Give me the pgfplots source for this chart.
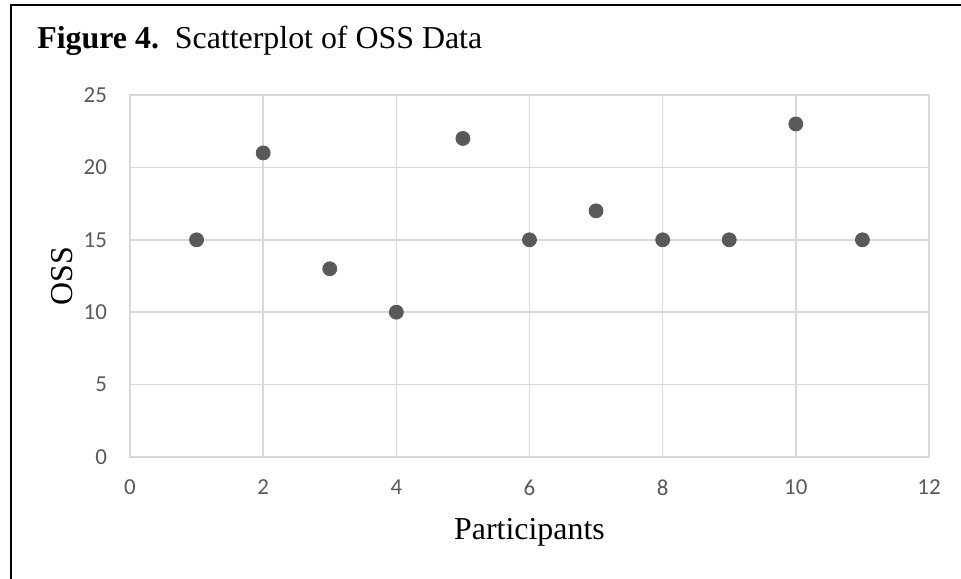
\documentclass[border=0pt]{standalone}
\usepackage{fontspec}
\setmainfont{Liberation Serif}
\newfontfamily\calibri{Carlito}
\usepackage{pgfplots}
\pgfplotsset{compat=1.18}
\definecolor{gridgray}{HTML}{D9D9D9}
\definecolor{tickgray}{HTML}{595959}
\definecolor{markgray}{HTML}{595959}

\begin{document}
\begin{tikzpicture}
% page = 961x579 px at 0.5 bp per px, origin at axis lower left
\useasboundingbox (-65bp,-61bp) rectangle (415.5bp,228.5bp);
\draw[line width=1.1bp] (-59.5bp,-70bp) -- (-59.5bp,226bp) -- (430bp,226bp);
\node[anchor=base west, font=\fontsize{16}{19}\selectfont, inner sep=0pt]
  at (-46.5bp,204bp) {\textbf{Figure 4.}\ \ Scatterplot of OSS Data};
\begin{axis}[
    at={(0,0)}, anchor=origin,
    scale only axis,
    width=399.5bp, height=181bp,
    xmin=0, xmax=12, ymin=0, ymax=25,
    xtick={0,2,...,12}, ytick={0,5,...,25},
    grid=major,
    grid style={gridgray, line width=0.75bp},
    axis line style={gridgray, line width=0.75bp},
    major tick length=0pt,
    /pgf/number format/assume math mode=true,
    tick label style={font=\calibri\fontsize{11.5}{13}\selectfont, text=tickgray},
    xticklabel style={yshift=-8bp},
    yticklabel style={xshift=-8bp},
    xlabel={Participants},
    ylabel={OSS},
    label style={font=\fontsize{16}{19}\selectfont},
    xlabel style={at={(axis description cs:0.5,-0.2072)}, anchor=center},
    ylabel style={at={(axis description cs:-0.0851,0.5)}, anchor=center},
]
\addplot[only marks, mark=*, mark size=3.5bp, mark options={fill=markgray, draw=markgray}]
  coordinates {(1,15) (2,21) (3,13) (4,10) (5,22) (6,15) (7,17) (8,15) (9,15) (10,23) (11,15)};
\end{axis}
\end{tikzpicture}
\end{document}
